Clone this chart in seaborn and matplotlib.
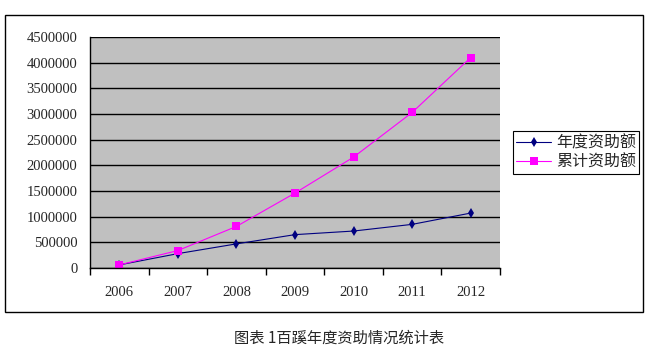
import numpy as np
import pandas as pd
import seaborn as sns
import matplotlib.pyplot as plt
from matplotlib.patches import Rectangle

# values
years = [2006, 2007, 2008, 2009, 2010, 2011, 2012]
annual = [60000, 280000, 470000, 650000, 720000, 850000, 1070000]
total = [60000, 340000, 810000, 1460000, 2160000, 3030000, 4100000]
series_names = ['年度资助额', '累计资助额']
y_ticks = list(range(0, 4500001, 500000))
caption = '图表 1百蹊年度资助情况统计表'

df = pd.DataFrame({
    'year': years * 2,
    'value': annual + total,
    'series': [series_names[0]] * len(years) + [series_names[1]] * len(years),
})

sns.set_style('white')
plt.rcParams['font.family'] = ['Liberation Serif', 'Noto Sans CJK SC', 'DejaVu Sans']

fig = plt.figure(figsize=(6.48, 3.53), dpi=100)
ax = fig.add_axes([90 / 648, 85 / 353, 410 / 648, 231 / 353])
ax.set_facecolor('#C0C0C0')

sns.lineplot(data=df, x='year', y='value', hue='series', style='series',
             markers={series_names[0]: 'd', series_names[1]: 's'}, dashes=False,
             palette={series_names[0]: '#000080', series_names[1]: '#FF00FF'},
             linewidth=0.8, markersize=5.5, markeredgewidth=0, ax=ax)

ax.set_ylim(0, 4500000)
ax.set_xlim(years[0] - 0.5, years[-1] + 0.5)
ax.set_yticks(y_ticks)
ax.set_yticklabels([str(v) for v in y_ticks])
ax.yaxis.grid(True, color='black', linewidth=1)
ax.set_axisbelow(True)

# ticks at category boundaries, labels in the middle
ax.set_xticks([y - 0.5 for y in years] + [years[-1] + 0.5])
ax.set_xticklabels([])
ax.set_xticks(years, minor=True)
ax.set_xticklabels([str(y) for y in years], minor=True)
ax.tick_params(axis='x', which='major', direction='out', length=5, width=1, color='black', bottom=True)
ax.tick_params(axis='x', which='minor', length=0, pad=13, labelsize=10.5)
ax.tick_params(axis='y', length=0, pad=9, labelsize=10.5)
ax.set_xlabel('')
ax.set_ylabel('')

for side in ['top', 'right']:
    ax.spines[side].set_visible(False)
for side in ['left', 'bottom']:
    ax.spines[side].set_color('black')
    ax.spines[side].set_linewidth(1)

handles, labels = ax.get_legend_handles_labels()
ax.get_legend().remove()
leg = ax.legend(handles, labels, loc='upper left',
                bbox_to_anchor=(513 / 648, 1 - 131 / 353), bbox_transform=fig.transFigure,
                frameon=True, fancybox=False, edgecolor='black', framealpha=1,
                borderpad=0.2, handlelength=2.2, handletextpad=0.3, labelspacing=0.15,
                borderaxespad=0, prop={'family': ['Noto Sans CJK SC', 'DejaVu Sans'], 'size': 11.5})
leg.get_frame().set_linewidth(0.8)

fig.patches.append(Rectangle((5 / 648, 41 / 353), 638 / 648, 297 / 353,
                             transform=fig.transFigure, fill=False,
                             edgecolor='black', linewidth=1))

fig.text(339 / 648, 1 - 338 / 353, caption, ha='center', va='center', fontsize=11,
         family=['Noto Sans CJK SC', 'DejaVu Sans'])

fig.savefig('out.png', dpi=100)
